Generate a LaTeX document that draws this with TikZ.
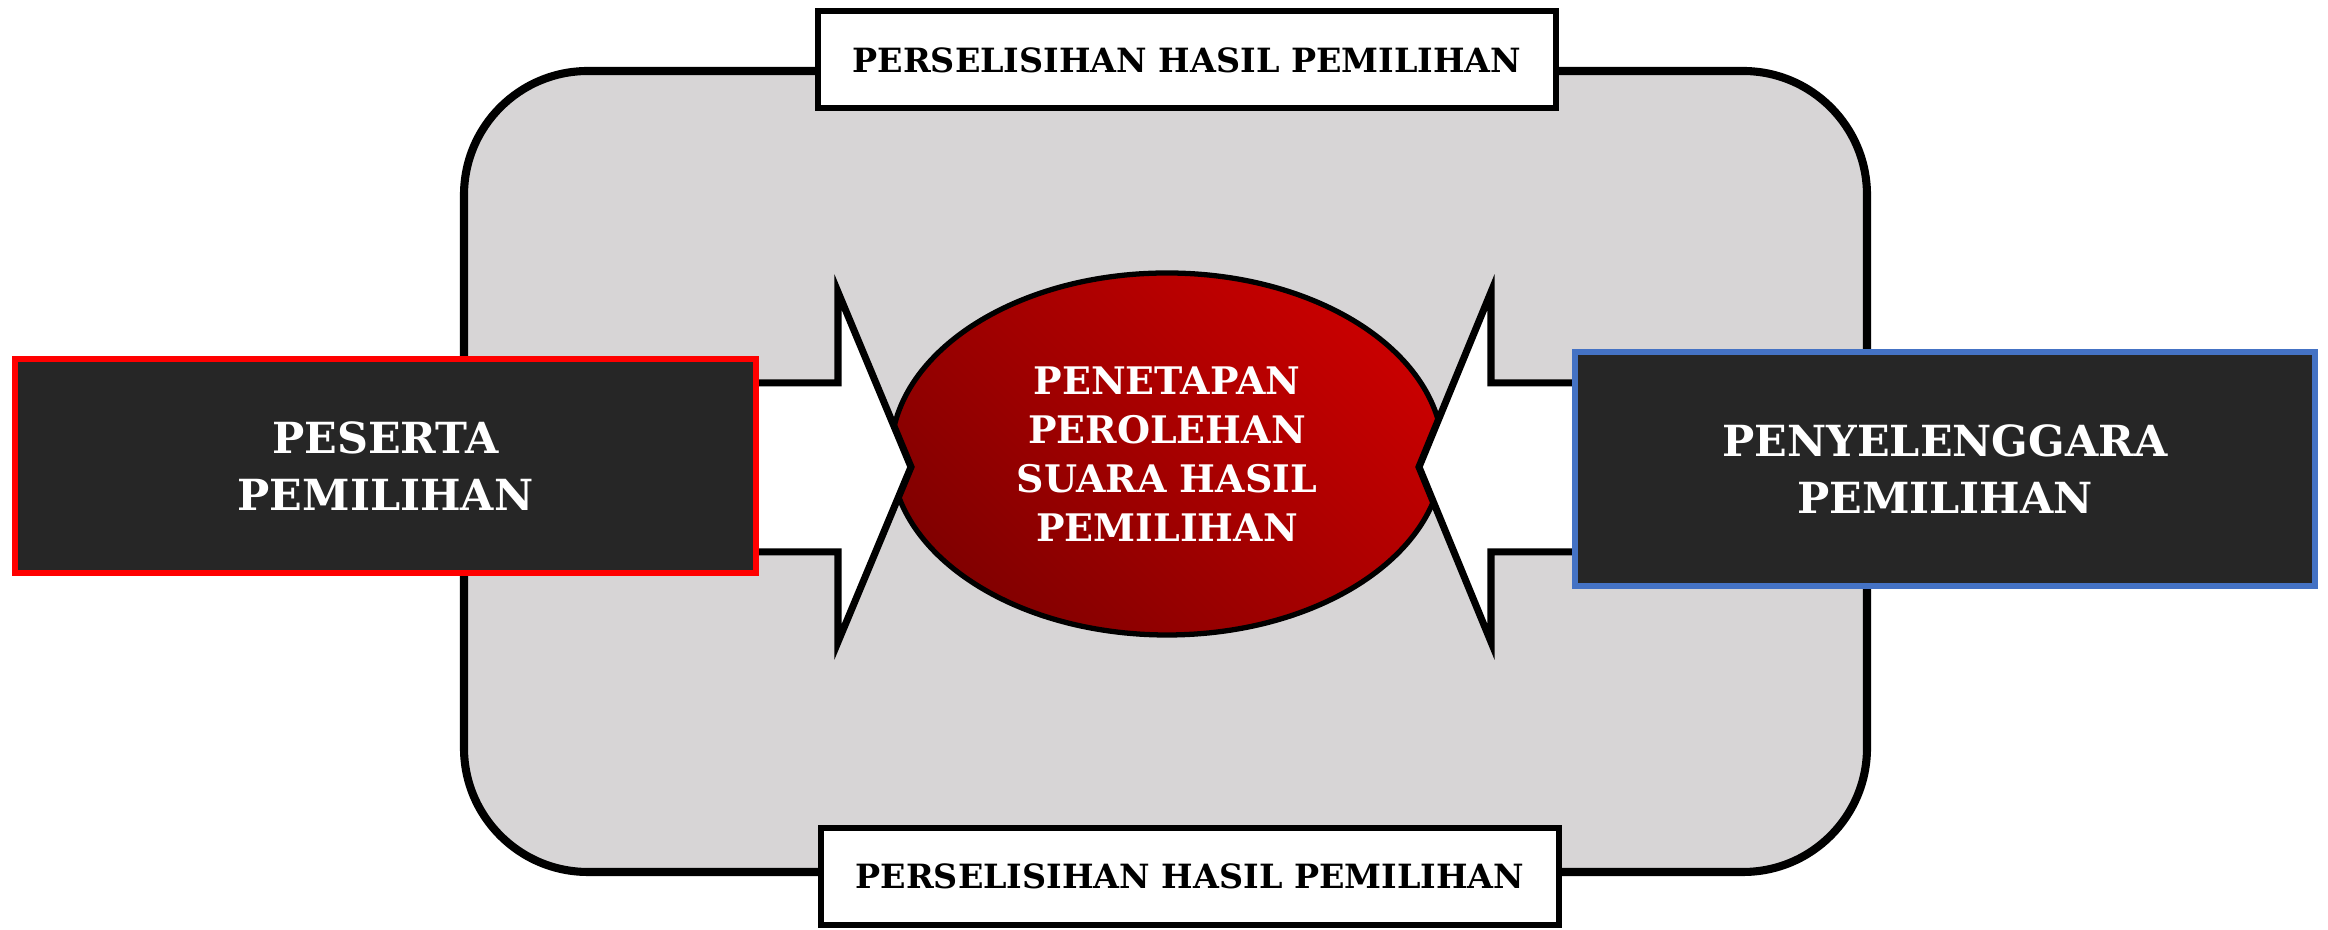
\documentclass[tikz,border=0pt]{standalone}
\usepackage{fontspec}
\setmainfont{DejaVu Serif}
\usetikzlibrary{positioning}
\usetikzlibrary{shapes.geometric}

\definecolor{panelgray}{RGB}{215,213,214}
\definecolor{boxdark}{RGB}{38,38,38}
\definecolor{pesertared}{RGB}{255,0,0}
\definecolor{penyblue}{RGB}{68,114,196}
\definecolor{ovallight}{RGB}{200,0,0}
\definecolor{ovaldark}{RGB}{130,0,0}

\tikzset{
	labelbox/.style={draw=black, line width=1.7pt, fill=white, minimum width=7.38cm, minimum height=0.97cm, inner sep=0pt, font=\bfseries\fontsize{9.5}{12}\selectfont},
	actorbox/.style={fill=boxdark, line width=1.8pt, text=white, align=center, inner sep=0pt, font=\bfseries\fontsize{12.2}{16.2}\selectfont},
	blockarrow/.style={draw=black, fill=white, line width=2pt, line join=miter},
}

\begin{document}
\begin{tikzpicture}
		\useasboundingbox (0,0) rectangle (23.28,9.30);
		
		\node[draw=black, line width=2.3pt, fill=panelgray, rounded corners=1.24cm, minimum width=14.03cm, minimum height=8.01cm] (panel) at (11.655,4.585) {};
		
		\node[labelbox] (sengketaTop) at (11.87,8.70) {PERSELISIHAN HASIL PEMILIHAN};
		\node[labelbox] (sengketaBot) at (11.90,0.535) {PERSELISIHAN HASIL PEMILIHAN};
		
		\node[ellipse, draw=black, line width=1.5pt, minimum width=5.52cm, minimum height=3.62cm, inner sep=0pt, top color=ovallight, bottom color=ovaldark, shading angle=-45, text=white, align=center, font=\bfseries\fontsize{10.8}{13.9}\selectfont] (penetapan) at (11.67,4.76) {PENETAPAN\\PEROLEHAN\\SUARA HASIL\\PEMILIHAN};
		
		\draw[blockarrow] (7.0,3.78) -- (8.38,3.78) -- (8.38,2.88) -- (9.11,4.63) -- (8.38,6.38) -- (8.38,5.47) -- (7.0,5.47) -- cycle;
		\draw[blockarrow] (16.2,3.78) -- (14.91,3.78) -- (14.91,2.88) -- (14.19,4.63) -- (14.91,6.38) -- (14.91,5.47) -- (16.2,5.47) -- cycle;
		
		\node[actorbox, draw=pesertared, minimum width=7.41cm, minimum height=2.14cm] (peserta) at (3.855,4.64) {PESERTA\\PEMILIHAN};
		\node[actorbox, draw=penyblue, minimum width=7.40cm, minimum height=2.34cm] (penyelenggara) at (19.45,4.61) {PENYELENGGARA\\PEMILIHAN};
	\end{tikzpicture}
\end{document}
